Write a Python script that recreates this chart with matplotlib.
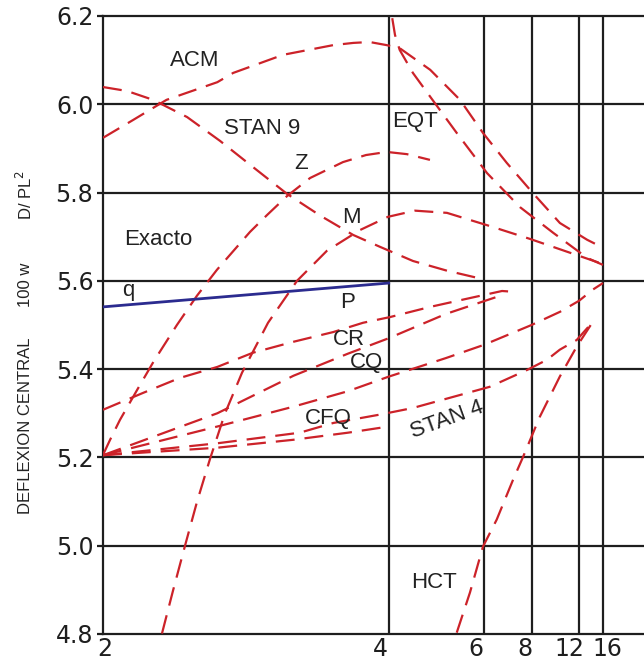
import matplotlib
matplotlib.use("Agg")
import matplotlib.pyplot as plt
import matplotlib.transforms as mtransforms
from matplotlib.ticker import NullLocator

# valores (N = divisiones, eje x en escala 1/N)
acm_n = [2, 2.11, 2.25, 2.5, 2.59, 2.92, 3.35, 3.56, 3.75, 3.97, 4.16, 4.68, 5.33, 5.97, 6.82, 8.07, 9.98, 13.1, 16]
acm_y = [5.924, 5.964, 6.01, 6.05, 6.071, 6.112, 6.134, 6.139, 6.141, 6.134, 6.127, 6.078, 6.01, 5.935, 5.867, 5.799, 5.731, 5.693, 5.675]

stan9_n = [2, 2.088, 2.192, 2.345, 2.515, 2.693, 2.95, 3.225, 3.557, 3.882, 4.371, 5.024, 5.787]
stan9_y = [6.039, 6.03, 6.01, 5.971, 5.917, 5.863, 5.797, 5.748, 5.704, 5.677, 5.645, 5.623, 5.607]

eqt_n = [4.05, 4.09, 4.16, 4.37, 4.68, 5.25, 6.10, 7.40, 9.42, 13.1, 16]
eqt_y = [6.195, 6.157, 6.123, 6.071, 6.017, 5.935, 5.844, 5.767, 5.709, 5.652, 5.636]

z_n = [2, 2.025, 2.061, 2.127, 2.194, 2.297, 2.393, 2.498, 2.693, 2.805, 2.95, 3.137, 3.448, 3.706, 3.974, 4.272, 4.675]
z_y = [5.206, 5.24, 5.285, 5.353, 5.417, 5.5, 5.566, 5.625, 5.711, 5.749, 5.792, 5.833, 5.869, 5.885, 5.892, 5.887, 5.874]

m_n = [2.23, 2.279, 2.335, 2.394, 2.461, 2.542, 2.643, 2.812, 3.028, 3.288, 3.634, 3.989, 4.404, 5.024, 6.196, 7.912, 10.64, 16]
m_y = [4.801, 4.898, 5.0, 5.1, 5.197, 5.299, 5.392, 5.505, 5.6, 5.668, 5.715, 5.745, 5.759, 5.754, 5.724, 5.695, 5.666, 5.638]

hct_n = [5.25, 5.59, 5.97, 6.43, 7.08, 7.55, 8.49, 9.97, 11.7, 14.0]
hct_y = [4.803, 4.894, 4.998, 5.059, 5.149, 5.201, 5.292, 5.383, 5.451, 5.507]

q_n = [2, 4]
q_y = [5.541, 5.595]

p_n = [2, 2.15, 2.31, 2.5, 2.71, 3.0, 3.35, 3.67, 4.02, 4.68, 5.59, 6.63, 7.17]
p_y = [5.308, 5.346, 5.38, 5.405, 5.437, 5.462, 5.484, 5.505, 5.518, 5.541, 5.561, 5.577, 5.575]

cr_n = [2, 2.5, 3, 3.5, 4, 5, 6.5]
cr_y = [5.205, 5.30, 5.385, 5.435, 5.47, 5.525, 5.565]

cq_n = [2, 2.5, 3, 3.5, 4, 5, 6, 8, 10, 12, 14, 16]
cq_y = [5.205, 5.27, 5.315, 5.35, 5.383, 5.425, 5.455, 5.50, 5.53, 5.555, 5.58, 5.595]

stan4_n = [2, 2.5, 3.05, 3.35, 3.88, 4.37, 5.16, 6.19, 7.75, 8.96, 9.97, 11.7, 14.0]
stan4_y = [5.205, 5.232, 5.256, 5.278, 5.297, 5.312, 5.337, 5.36, 5.398, 5.421, 5.444, 5.466, 5.507]

cfq_n = [2, 2.5, 3, 3.5, 4]
cfq_y = [5.205, 5.222, 5.24, 5.256, 5.27]

x_ticks = [2, 4, 6, 8, 12, 16]
y_ticks = [4.8, 5.0, 5.2, 5.4, 5.6, 5.8, 6.0, 6.2]

rojo = "#cc2229"
azul = "#2b2b8f"
negro = "#1e1e1e"

fig = plt.figure(figsize=(6.44, 6.6), dpi=100)
ax = fig.add_axes([0.16, 0.0394, 0.84, 0.9364])

ax.set_xscale("function", functions=(lambda x: -1.0 / x, lambda y: -1.0 / y))
ax.set_xlim(2, 37.6)
ax.set_ylim(4.8, 6.2)

# rejilla
for yv in y_ticks[1:-1]:
    ax.axhline(yv, color=negro, lw=1.6, zorder=1)
for xv in x_ticks[1:]:
    ax.axvline(xv, color=negro, lw=1.6, zorder=1)

curvas = [(acm_n, acm_y), (stan9_n, stan9_y), (eqt_n, eqt_y), (z_n, z_y), (m_n, m_y),
          (hct_n, hct_y), (p_n, p_y), (cr_n, cr_y), (cq_n, cq_y), (stan4_n, stan4_y), (cfq_n, cfq_y)]
for n, y in curvas:
    ax.plot(n, y, color=rojo, lw=1.6, dashes=(8.5, 4.5), zorder=3)
ax.plot(q_n, q_y, color=azul, lw=2, zorder=4)

fs = 16
fam = ["Liberation Sans", "DejaVu Sans"]
etiquetas = [("ACM", 2.384, 6.100, 0), ("STAN 9", 2.771, 5.944, 0), ("Z", 3.061, 5.865, 0),
             ("M", 3.534, 5.743, 0), ("EQT", 4.406, 5.960, 0), ("Exacto", 2.213, 5.693, 0),
             ("q", 2.092, 5.578, 0), ("P", 3.491, 5.550, 0), ("CR", 3.512, 5.466, 0),
             ("CQ", 3.706, 5.414, 0), ("CFQ", 3.299, 5.288, 0), ("STAN 4", 5.026, 5.285, 20),
             ("HCT", 4.754, 4.916, 0)]
for txt, xn, yv, rot in etiquetas:
    ax.text(xn, yv, txt, fontsize=fs, family=fam, color="#222222", ha="center", va="center",
            rotation=rot, zorder=5)

ax.set_xticks(x_ticks)
ax.set_xticklabels([str(v) for v in x_ticks])
ax.xaxis.set_minor_locator(NullLocator())
ax.set_yticks(y_ticks)
ax.set_yticklabels(["%.1f" % v for v in y_ticks])
ax.tick_params(axis="both", labelsize=17, colors=negro, length=4, width=1.6, pad=3)
ax.tick_params(axis="x", length=0, pad=2)

# las etiquetas del eje x estan algo corridas en el original
desplaz = [2, -8, -8, -7, -10, 4]
for lab, dx in zip(ax.get_xticklabels(), desplaz):
    lab.set_transform(lab.get_transform() + mtransforms.ScaledTranslation(dx / 100.0, 0, fig.dpi_scale_trans))
for lab in ax.get_xticklabels() + ax.get_yticklabels():
    lab.set_family("DejaVu Sans")

ax.spines["right"].set_visible(False)
for s in ["left", "bottom", "top"]:
    ax.spines[s].set_color(negro)
    ax.spines[s].set_linewidth(1.6)

# titulo del eje y en tres partes
fig.text(0.039, 0.355, "DEFLEXION CENTRAL", rotation=90, fontsize=12, family=fam,
         color="#222222", ha="center", va="center")
fig.text(0.039, 0.568, "100 w", rotation=90, fontsize=12, family=fam,
         color="#222222", ha="center", va="center")
fig.text(0.039, 0.705, "D/ PL$^2$", rotation=90, fontsize=12, family=fam,
         color="#222222", ha="center", va="center")

fig.savefig("out.png", dpi=100, facecolor="white")
